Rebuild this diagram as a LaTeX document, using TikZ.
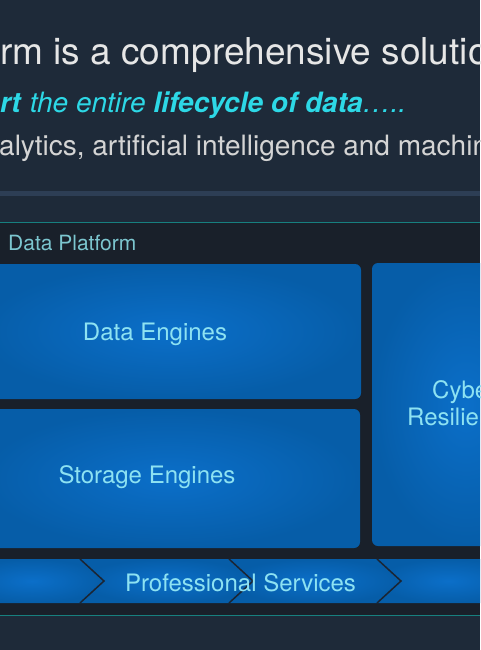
\documentclass[tikz,border=0pt]{standalone}
\usepackage{fontspec}
\setmainfont{TeX Gyre Heros}
\definecolor{slidebg}{HTML}{1E2A39}
\definecolor{panelbg}{HTML}{19202A}
\definecolor{sepbar}{HTML}{2D3E55}
\definecolor{tealline}{HTML}{17807F}
\definecolor{titlegray}{HTML}{E6E6E6}
\definecolor{subgray}{HTML}{D4D4D4}
\definecolor{accent}{HTML}{2DD8E6}
\definecolor{platformtxt}{HTML}{7CC6CF}
\definecolor{blockin}{HTML}{0B6FC9}
\definecolor{blockout}{HTML}{065DA8}
\definecolor{blocktxt}{HTML}{8DE2F2}
\definecolor{chevedge}{HTML}{1B2533}
\begin{document}
\begin{tikzpicture}[x=1pt,y=-1pt,
    headline/.style={anchor=base west, inner sep=0pt},
    block/.style={rounded corners=6pt, inner color=blockin, outer color=blockout},
    blocktext/.style={text=blocktxt, font=\fontsize{24}{28}\selectfont, inner sep=0pt},
    chevpiece/.style={inner color=blockin, outer color=blockout},
    chevline/.style={draw=chevedge, line width=1.5pt}]
        \useasboundingbox (0,0) rectangle (480,650);
        \clip (0,0) rectangle (480,650);
        \fill[slidebg] (0,0) rectangle (480,650);

        \node[headline, text=titlegray, font=\fontsize{37}{44}\selectfont] (title) at (0,65) {rm is a comprehensive solutio};
        \node[headline, text=accent, font=\fontsize{28}{34}\selectfont] (lifecycle) at (0,113)
            {\textbf{\textit{rt}} \textit{the entire} \textbf{\textit{lifecycle of data}}\textit{…..}};
        \node[headline, text=subgray, font=\fontsize{28}{34}\selectfont] (uses) at (-1,155) {alytics, artificial intelligence and machin};

        \fill[sepbar] (0,191) rectangle (480,196);

        \fill[panelbg] (0,222) rectangle (480,615);
        \draw[tealline, line width=1pt] (0,222) -- (480,222);
        \draw[tealline, line width=1pt] (0,615) -- (480,615);
        \node[headline, text=platformtxt, font=\fontsize{21}{25}\selectfont] (platform) at (8,250) {Data Platform};

        \shade[block] (-20,264) rectangle (361,399);
        \node[blocktext] (dataeng) at (155,334) {Data Engines};

        \shade[block] (-20,409) rectangle (360,548);
        \node[blocktext] (storeng) at (147,477) {Storage Engines};

        \shade[block] (372,263) rectangle (560,546);
        \node[blocktext, anchor=base west] (cyber) at (432,398) {Cybe};
        \node[blocktext, anchor=base west] (resil) at (407,425) {Resilie};

        \shade[chevpiece] (-40,559) -- (80,559) -- (104,581) -- (80,603) -- (-40,603) -- cycle;
        \shade[chevpiece] (80,559) -- (229,559) -- (253,581) -- (229,603) -- (80,603) -- (104,581) -- cycle;
        \shade[chevpiece] (229,559) -- (377,559) -- (401,581) -- (377,603) -- (229,603) -- (253,581) -- cycle;
        \shade[chevpiece] (377,559) -- (520,559) -- (520,603) -- (377,603) -- (401,581) -- cycle;
        \draw[chevline] (80,559) -- (104,581) -- (80,603);
        \draw[chevline] (229,559) -- (253,581) -- (229,603);
        \draw[chevline] (377,559) -- (401,581) -- (377,603);
        \node[blocktext] (services) at (240.5,583) {Professional Services};
\end{tikzpicture}
\end{document}
